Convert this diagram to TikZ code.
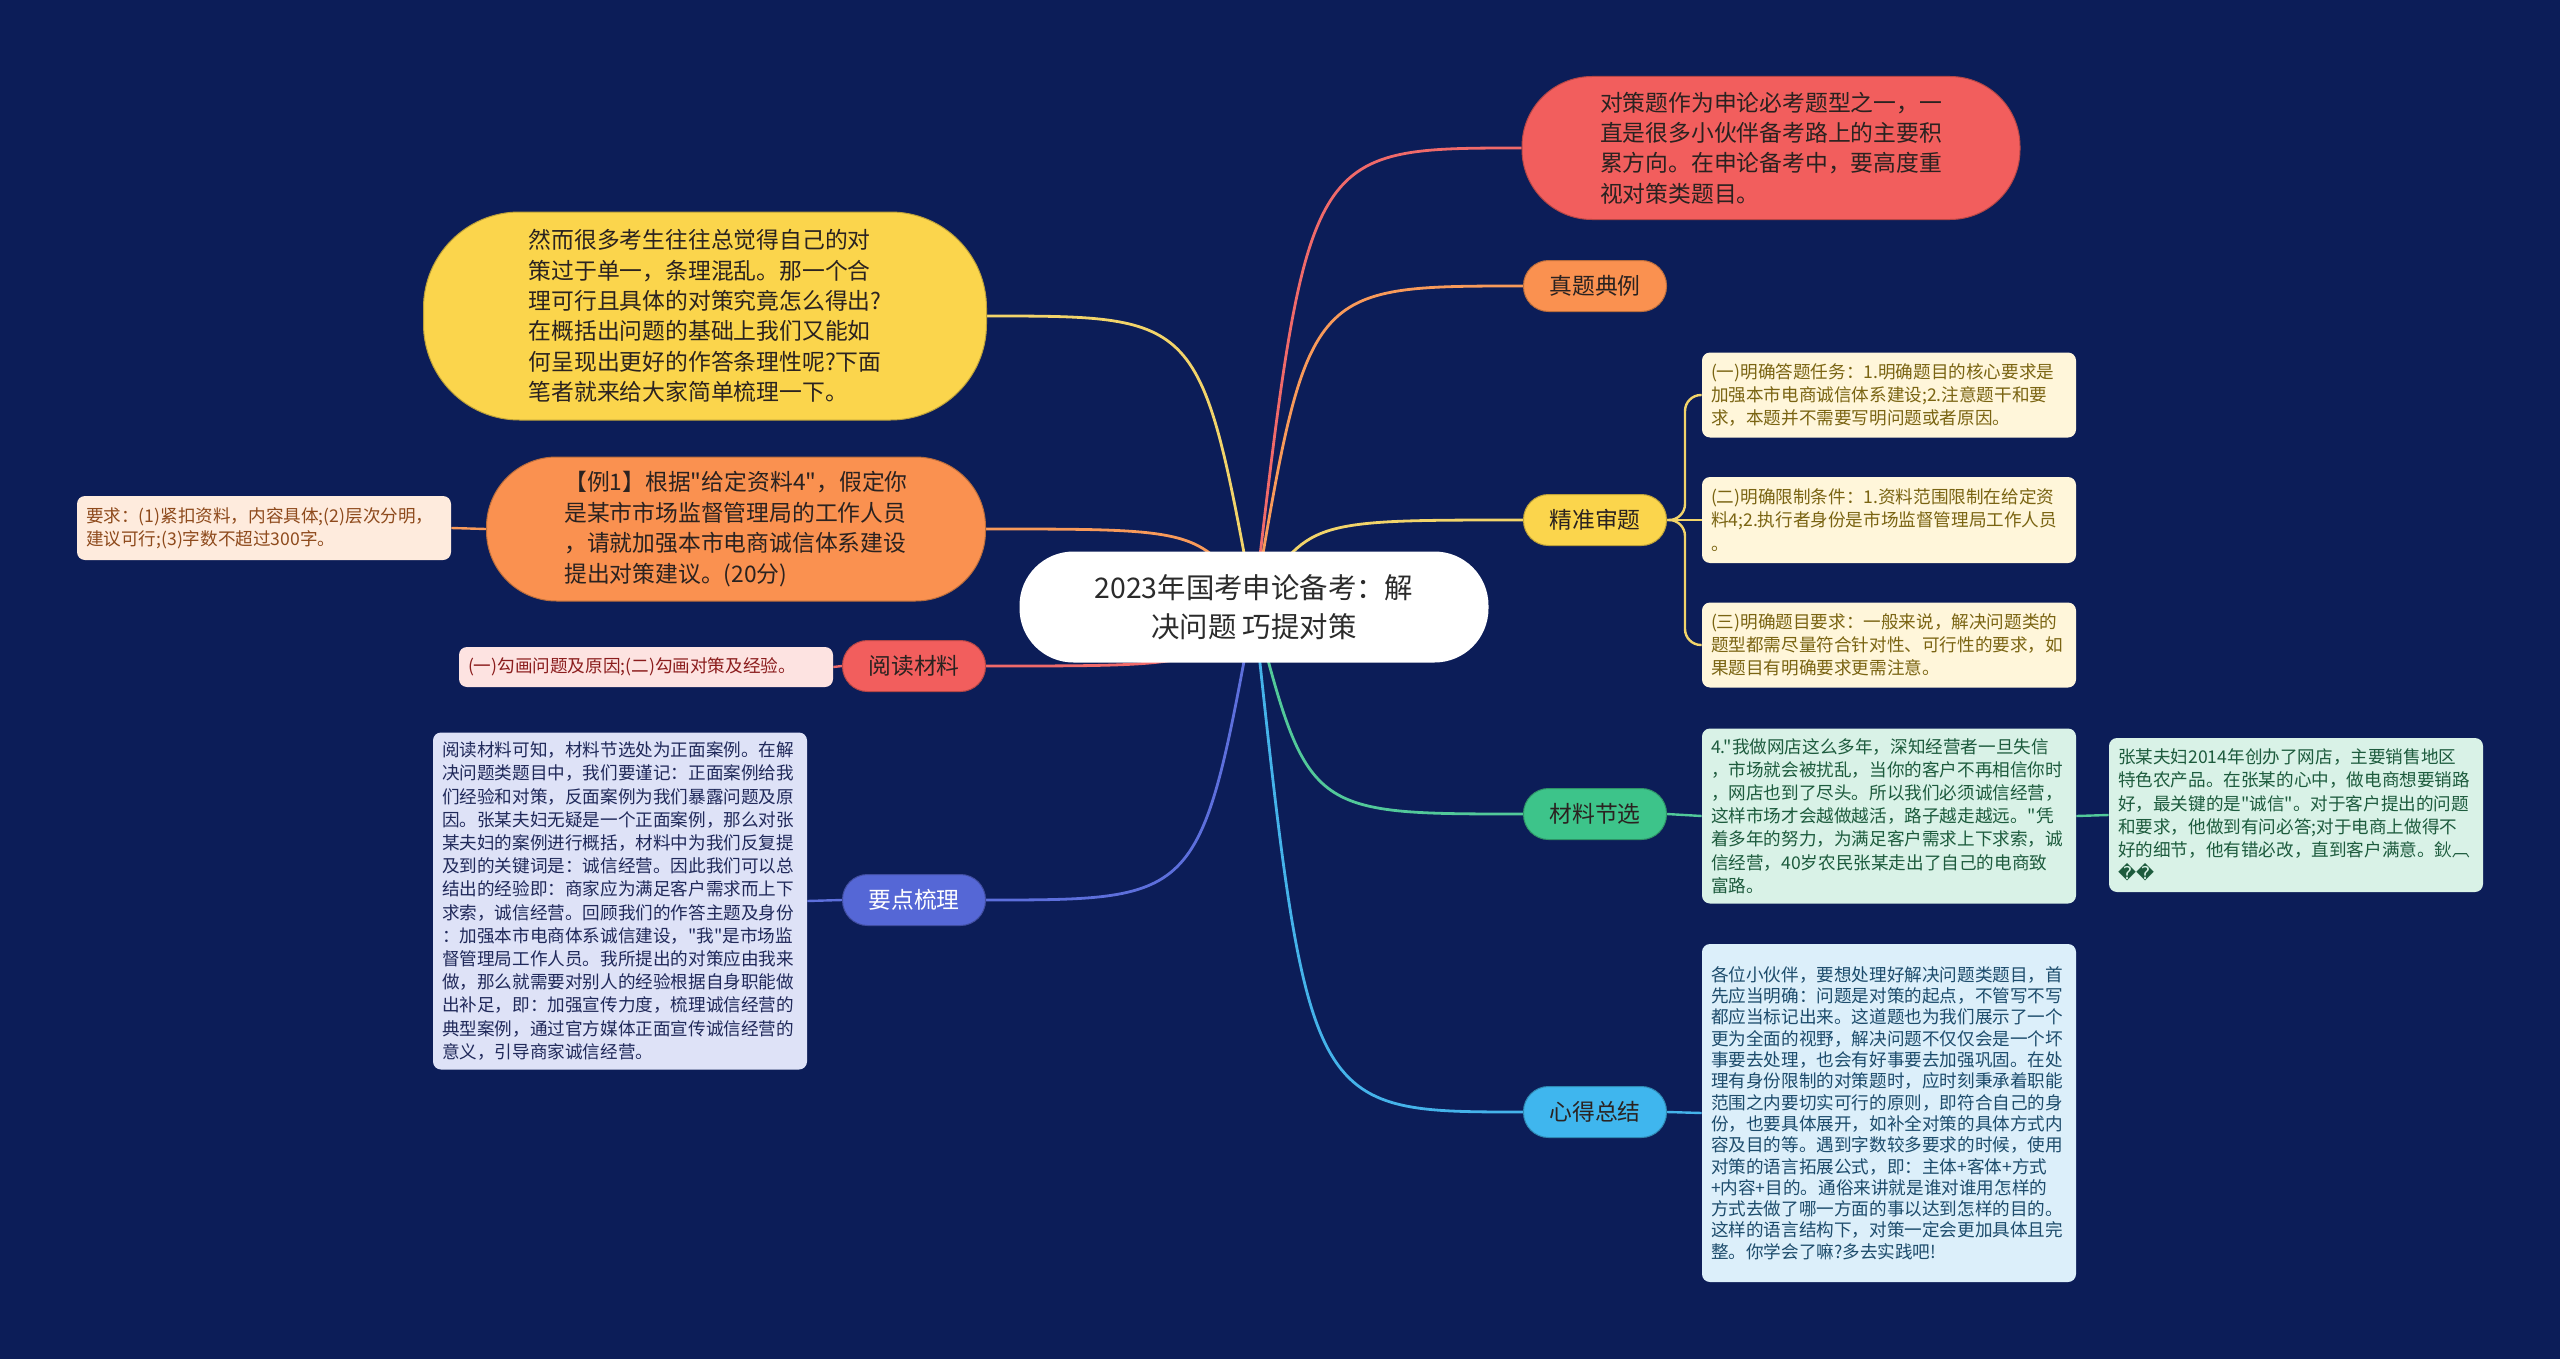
\documentclass[tikz,border=0pt]{standalone}
\usepackage{fontspec}
\setmainfont{Noto Sans CJK SC}[Ligatures=TeXOff]
\newfontfamily\repfont{DejaVu Sans}
\usepackage{tikz}
\usetikzlibrary{calc,backgrounds}
\definecolor{night}{HTML}{0C1D58}
\definecolor{rootink}{HTML}{2B2B2B}
\definecolor{topicink}{HTML}{2A2220}
\definecolor{redfill}{HTML}{F25E5D}
\definecolor{redline}{HTML}{F06A6A}
\definecolor{orfill}{HTML}{FA9150}
\definecolor{orline}{HTML}{F89A5A}
\definecolor{yelfill}{HTML}{FBD54C}
\definecolor{yelline}{HTML}{F2D46A}
\definecolor{grfill}{HTML}{3DC48A}
\definecolor{grline}{HTML}{52C99A}
\definecolor{blfill}{HTML}{3FB6EE}
\definecolor{blline}{HTML}{45B3EA}
\definecolor{purfill}{HTML}{5567D6}
\definecolor{purline}{HTML}{5D6FDC}
\definecolor{creamfill}{HTML}{FFF6DA}
\definecolor{creamink}{HTML}{7A6412}
\definecolor{mintfill}{HTML}{D9F2E7}
\definecolor{mintink}{HTML}{1D5B3D}
\definecolor{skyfill}{HTML}{DCEFFA}
\definecolor{skyink}{HTML}{1D4C6C}
\definecolor{lavfill}{HTML}{DEE2F7}
\definecolor{lavink}{HTML}{20295A}
\definecolor{peachfill}{HTML}{FEEBDD}
\definecolor{peachink}{HTML}{8E4A1C}
\definecolor{pinkfill}{HTML}{FDE3E1}
\definecolor{pinkink}{HTML}{8B1D1D}
\tikzset{
  topic/.style={fill=#1, draw=#1!75!black, line width=0.5pt, rounded corners=12.5pt, minimum width=71.5pt,
                minimum height=25.5pt, inner sep=0pt, font=\fontsize{11.4}{14}\selectfont, text=topicink},
  bubble/.style={fill=#1, draw=#1!75!black, line width=0.5pt, align=left, inner sep=0pt,
                 font=\fontsize{11.4}{15.2}\selectfont, text=topicink},
  note/.style={fill=#1, rounded corners=4pt, align=left, text width=178pt, inner xsep=4.5pt, inner ysep=0pt,
               font=\fontsize{8.8}{11.6}\selectfont},
  branch/.style={draw=#1, line width=1.4pt},
  twig/.style={draw=#1, line width=1.2pt},
}
\begin{document}
\begin{tikzpicture}[x=0.5pt, y=-0.5pt]
  \begin{scope}[on background layer]
    \fill[night] (0,0) rectangle (2560,1359);
  \end{scope}
  \useasboundingbox (0,0) rectangle (2560,1359);

  % centre
  \node[fill=white, rounded corners=27pt, minimum width=234.5pt, minimum height=55.5pt, align=center,
        font=\fontsize{14.2}{19.5}\selectfont, text=rootink] (root) at (1254,607)
        {2023年国考申论备考：解\\决问题 巧提对策};

  % right side
  \node[bubble=redfill, rounded corners=35pt, minimum width=249pt, minimum height=71.5pt] (intro) at (1771,148)
        {对策题作为申论必考题型之一，一\\直是很多小伙伴备考路上的主要积\\累方向。在申论备考中，要高度重\\视对策类题目。};
  \node[topic=orfill] (zhenti) at (1595,286) {真题典例};
  \node[topic=yelfill] (jingzhun) at (1595,520) {精准审题};
  \node[topic=grfill] (cailiao) at (1595,814) {材料节选};
  \node[topic=blfill] (xinde) at (1595,1112) {心得总结};

  \node[note=creamfill, text=creamink, minimum height=42.5pt] (task1) at (1889,395)
        {(一)明确答题任务：1.明确题目的核心要求是\\加强本市电商诚信体系建设;2.注意题干和要\\求，本题并不需要写明问题或者原因。};
  \node[note=creamfill, text=creamink, minimum height=43pt] (task2) at (1889,520)
        {(二)明确限制条件：1.资料范围限制在给定资\\料4;2.执行者身份是市场监督管理局工作人员\\。};
  \node[note=creamfill, text=creamink, minimum height=42.5pt] (task3) at (1889,645)
        {(三)明确题目要求：一般来说，解决问题类的\\题型都需尽量符合针对性、可行性的要求，如\\果题目有明确要求更需注意。};

  \node[note=mintfill, text=mintink, minimum height=87.5pt] (quote) at (1889,816)
        {4."我做网店这么多年，深知经营者一旦失信\\，市场就会被扰乱，当你的客户不再相信你时\\，网店也到了尽头。所以我们必须诚信经营，\\这样市场才会越做越活，路子越走越远。"凭\\着多年的努力，为满足客户需求上下求索，诚\\信经营，40岁农民张某走出了自己的电商致\\富路。};
  \node[note=mintfill, text=mintink, minimum height=77pt] (story) at (2296,815)
        {张某夫妇2014年创办了网店，主要销售地区\\特色农产品。在张某的心中，做电商想要销路\\好，最关键的是"诚信"。对于客户提出的问题\\和要求，他做到有问必答;对于电商上做得不\\好的细节，他有错必改，直到客户满意。鈥︹\\{\repfont ��}};

  \node[note=skyfill, text=skyink, minimum height=169pt, font=\fontsize{8.8}{10.65}\selectfont] (summary) at (1889,1113)
        {各位小伙伴，要想处理好解决问题类题目，首\\先应当明确：问题是对策的起点，不管写不写\\都应当标记出来。这道题也为我们展示了一个\\更为全面的视野，解决问题不仅仅会是一个坏\\事要去处理，也会有好事要去加强巩固。在处\\理有身份限制的对策题时，应时刻秉承着职能\\范围之内要切实可行的原则，即符合自己的身\\份，也要具体展开，如补全对策的具体方式内\\容及目的等。遇到字数较多要求的时候，使用\\对策的语言拓展公式，即：主体+客体+方式\\+内容+目的。通俗来讲就是谁对谁用怎样的\\方式去做了哪一方面的事以达到怎样的目的。\\这样的语言结构下，对策一定会更加具体且完\\整。你学会了嘛?多去实践吧!};

  % left side
  \node[bubble=yelfill, rounded corners=48pt, minimum width=281.5pt, minimum height=104pt] (doubt) at (705,316)
        {然而很多考生往往总觉得自己的对\\策过于单一，条理混乱。那一个合\\理可行且具体的对策究竟怎么得出?\\在概括出问题的基础上我们又能如\\何呈现出更好的作答条理性呢?下面\\笔者就来给大家简单梳理一下。};
  \node[bubble=orfill, rounded corners=35pt, minimum width=249.5pt, minimum height=72pt] (example) at (736,529)
        {【例1】根据"给定资料4"，假定你\\是某市市场监督管理局的工作人员\\，请就加强本市电商诚信体系建设\\提出对策建议。(20分)};
  \node[topic=redfill] (yuedu) at (914,666) {阅读材料};
  \node[topic=purfill, text=white] (yaodian) at (914,900) {要点梳理};

  \node[note=peachfill, text=peachink, minimum height=32pt] (require) at (264,528)
        {要求：(1)紧扣资料，内容具体;(2)层次分明，\\建议可行;(3)字数不超过300字。};
  \node[note=pinkfill, text=pinkink, minimum height=20pt] (mark) at (646,667)
        {(一)勾画问题及原因;(二)勾画对策及经验。};
  \node[note=lavfill, text=lavink, minimum height=168.5pt] (analysis) at (620,901)
        {阅读材料可知，材料节选处为正面案例。在解\\决问题类题目中，我们要谨记：正面案例给我\\们经验和对策，反面案例为我们暴露问题及原\\因。张某夫妇无疑是一个正面案例，那么对张\\某夫妇的案例进行概括，材料中为我们反复提\\及到的关键词是：诚信经营。因此我们可以总\\结出的经验即：商家应为满足客户需求而上下\\求索，诚信经营。回顾我们的作答主题及身份\\：加强本市电商体系诚信建设，"我"是市场监\\督管理局工作人员。我所提出的对策应由我来\\做，那么就需要对别人的经验根据自身职能做\\出补足，即：加强宣传力度，梳理诚信经营的\\典型案例，通过官方媒体正面宣传诚信经营的\\意义，引导商家诚信经营。};

  % connectors
  \begin{scope}[on background layer]
    \draw[branch=redline] let \p1=(root.center), \p2=(intro.west), \p3=($(\p1)!0.2!(\p2)$) in (\p1) .. controls (\x3,\y2) .. (\p2);
    \draw[branch=orline] let \p1=(root.center), \p2=(zhenti.west), \p3=($(\p1)!0.2!(\p2)$) in (\p1) .. controls (\x3,\y2) .. (\p2);
    \draw[branch=yelline] let \p1=(root.center), \p2=(jingzhun.west), \p3=($(\p1)!0.2!(\p2)$) in (\p1) .. controls (\x3,\y2) .. (\p2);
    \draw[branch=grline] let \p1=(root.center), \p2=(cailiao.west), \p3=($(\p1)!0.2!(\p2)$) in (\p1) .. controls (\x3,\y2) .. (\p2);
    \draw[branch=blline] let \p1=(root.center), \p2=(xinde.west), \p3=($(\p1)!0.2!(\p2)$) in (\p1) .. controls (\x3,\y2) .. (\p2);
    \draw[branch=yelline] let \p1=(root.center), \p2=(doubt.east), \p3=($(\p1)!0.2!(\p2)$) in (\p1) .. controls (\x3,\y2) .. (\p2);
    \draw[branch=orline] let \p1=(root.center), \p2=(example.east), \p3=($(\p1)!0.2!(\p2)$) in (\p1) .. controls (\x3,\y2) .. (\p2);
    \draw[branch=redline] let \p1=(root.center), \p2=(yuedu.east), \p3=($(\p1)!0.2!(\p2)$) in (\p1) .. controls (\x3,\y2) .. (\p2);
    \draw[branch=purline] let \p1=(root.center), \p2=(yaodian.east), \p3=($(\p1)!0.2!(\p2)$) in (\p1) .. controls (\x3,\y2) .. (\p2);

    \draw[twig=yelline, rounded corners=8pt] (jingzhun.east) -- ++(9pt,0) |- (task1.west);
    \draw[twig=yelline] (jingzhun.east) -- (task2.west);
    \draw[twig=yelline, rounded corners=8pt] (jingzhun.east) -- ++(9pt,0) |- (task3.west);
    \draw[twig=grline] (cailiao.east) -- (quote.west);
    \draw[twig=grline] (quote.east) -- (story.west);
    \draw[twig=blline] (xinde.east) -- (summary.west);
    \draw[twig=orline] (example.west) -- (require.east);
    \draw[twig=redline] (yuedu.west) -- (mark.east);
    \draw[twig=purline] (yaodian.west) -- (analysis.east);
  \end{scope}
\end{tikzpicture}
\end{document}
